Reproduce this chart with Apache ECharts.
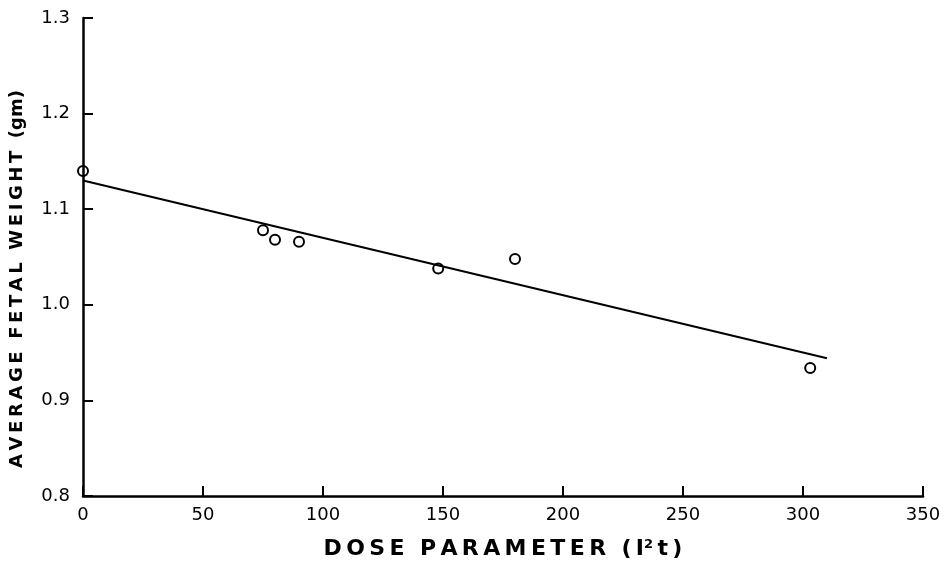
<!DOCTYPE html>
<html><head><meta charset="utf-8">
<script src="https://cdn.jsdelivr.net/npm/echarts@6/dist/echarts.min.js"></script>
<style>html,body{margin:0;padding:0;background:#fff}#c{width:947px;height:561px}</style>
</head><body><div id="c"></div>
<script>
const doseValues = [0, 75, 80, 90, 148, 180, 303];
const weightValues = [1.14, 1.078, 1.068, 1.066, 1.038, 1.048, 0.934];
const fitX = [0, 310];
const fitY = [1.130, 0.944];
const xTicks = [0, 50, 100, 150, 200, 250, 300, 350];
const yTicks = [0.8, 0.9, 1.0, 1.1, 1.2, 1.3];

const sp = s => s.split(' ').map(w => w.split('').join('\u2009')).join('  ');
const chart = echarts.init(document.getElementById('c'));
const font = 'DejaVu Sans';
chart.setOption({
  animation: false,
  backgroundColor: '#fff',
  grid: {left: 83, right: 24, top: 18, bottom: 65, containLabel: false, outerBoundsMode: 'none'},
  xAxis: {
    type: 'value', min: 0, max: 350, interval: 50,
    axisLine: {show: true, lineStyle: {color: '#000', width: 2.5}},
    axisTick: {show: true, inside: true, length: 10, lineStyle: {color: '#000', width: 2}},
    splitLine: {show: false},
    axisLabel: {color: '#000', fontFamily: font, fontSize: 18, margin: 10,
      formatter: v => String(v)},
    name: '{t|' + sp('DOSE PARAMETER (I') + '}{s|2}{t|\u2009t\u2009)}',
    nameLocation: 'middle', nameGap: 42,
    nameTextStyle: {rich: {
      t: {fontFamily: font, fontWeight: 'bold', fontSize: 22, color: '#000'},
      s: {fontFamily: font, fontWeight: 'bold', fontSize: 13, color: '#000', verticalAlign: 'top', padding: [0,0,10,0]}
    }}
  },
  yAxis: {
    type: 'value', min: 0.8, max: 1.3, interval: 0.1,
    axisLine: {show: true, lineStyle: {color: '#000', width: 2.5}},
    axisTick: {show: true, inside: true, length: 10, lineStyle: {color: '#000', width: 2}},
    splitLine: {show: false},
    axisLabel: {color: '#000', fontFamily: font, fontSize: 18, margin: 13,
      formatter: v => v.toFixed(1)},
    name: sp('AVERAGE FETAL WEIGHT') + '  (gm)',
    nameLocation: 'middle', nameGap: 57, nameRotate: 90,
    nameTextStyle: {fontFamily: font, fontWeight: 'bold', fontSize: 18, color: '#000', padding: [0, 44, 0, 0]}
  },
  series: [
    {type: 'line', data: fitX.map((x, i) => [x, fitY[i]]), symbol: 'none',
     lineStyle: {color: '#000', width: 2}, z: 2},
    {type: 'scatter', data: doseValues.map((x, i) => [x, weightValues[i]]),
     symbol: 'circle', symbolSize: 10,
     itemStyle: {color: 'rgba(255,255,255,0)', borderColor: '#000', borderWidth: 2, opacity: 1}, z: 3}
  ]
});
</script></body></html>
